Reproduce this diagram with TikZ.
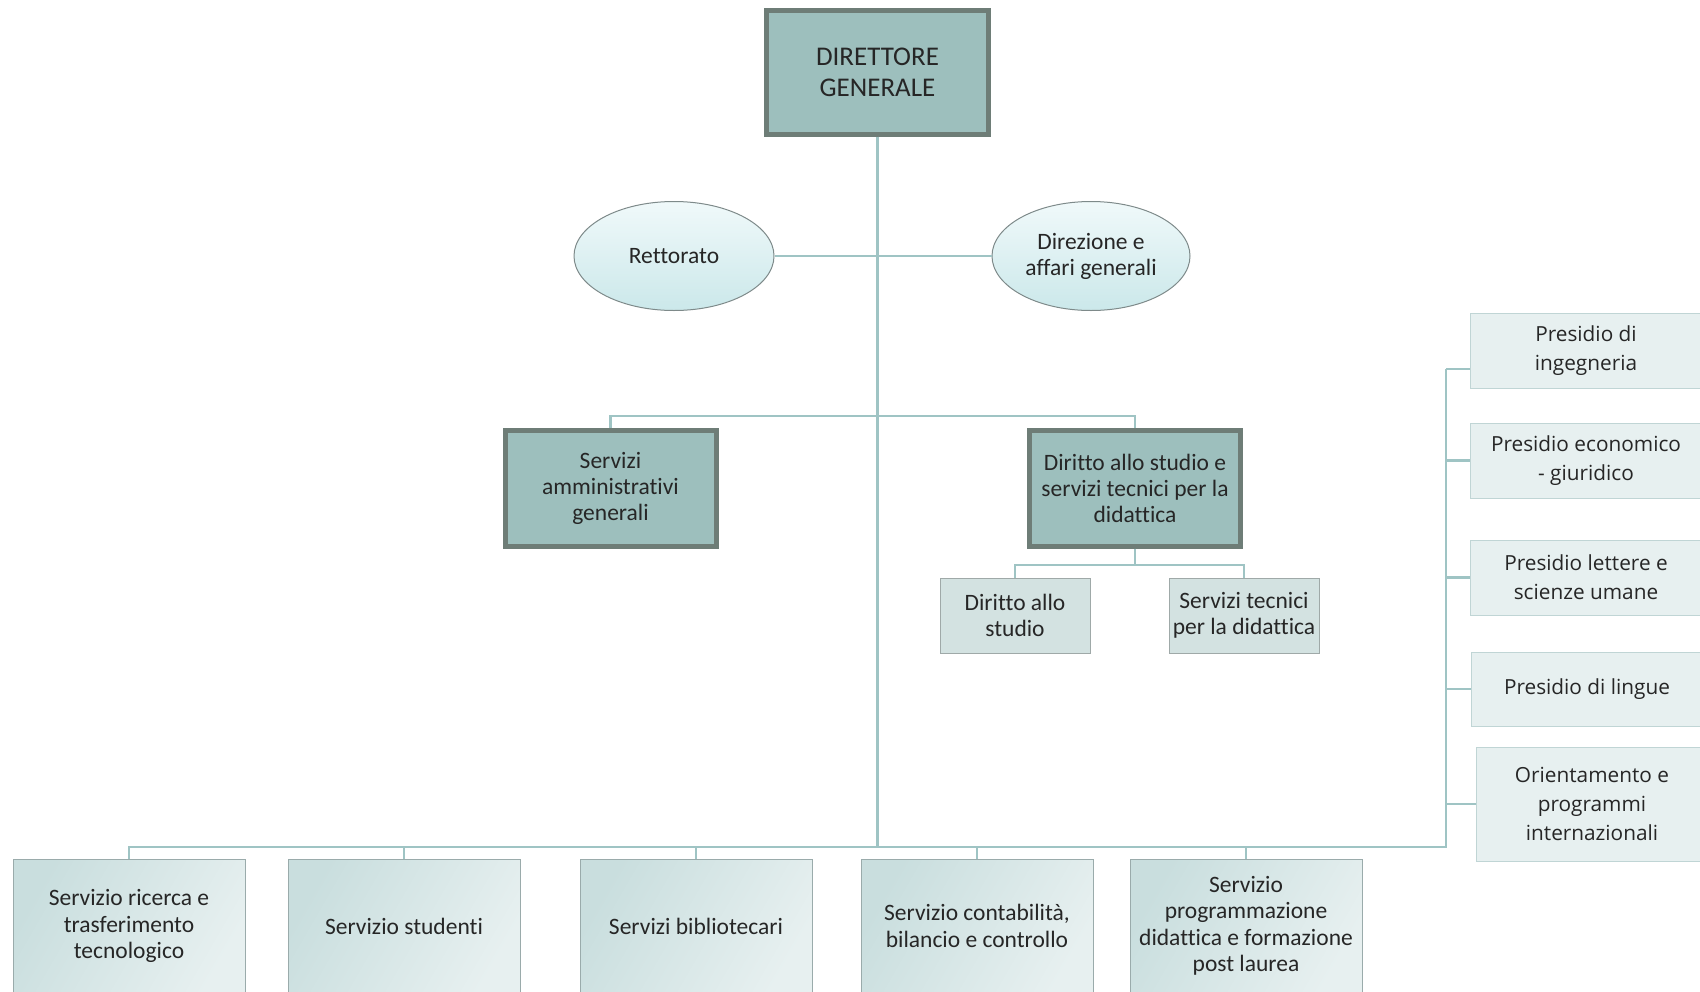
\documentclass[tikz,border=0pt]{standalone}
\usepackage{fontspec}
\setmainfont{Carlito}[Ligatures={NoCommon}]
\newfontfamily\rightfont{Open Sans}
\usetikzlibrary{shapes.geometric}
\definecolor{linec}{HTML}{9FC4C4}
\definecolor{darkfill}{HTML}{9DBFBD}
\definecolor{darkborder}{HTML}{6E7D77}
\definecolor{smallfill}{HTML}{D3E2E1}
\definecolor{smallborder}{HTML}{9FA9A8}
\definecolor{ellborder}{HTML}{7E8A8A}
\definecolor{elltop}{HTML}{F0F9FA}
\definecolor{ellbottom}{HTML}{CBE8EA}
\definecolor{botleft}{HTML}{C9DEDE}
\definecolor{botright}{HTML}{E7F0F0}
\definecolor{botborder}{HTML}{9AABAB}
\definecolor{rightfill}{HTML}{E7F0F0}
\definecolor{rightborder}{HTML}{C0D5D5}
\definecolor{txt}{HTML}{262626}
\tikzset{
  conn/.style={draw=linec, line width=2.6pt},
  bigbox/.style={rectangle, draw=darkborder, line width=5pt, fill=darkfill, text=txt, align=center,
    inner sep=0pt, font=\fontsize{23.5}{26}\selectfont},
  topbox/.style={bigbox, font=\fontsize{27}{31}\selectfont},
  smallbox/.style={rectangle, draw=smallborder, line width=1pt, fill=smallfill, text=txt, align=center,
    inner sep=0pt, minimum width=150pt, minimum height=75pt, font=\fontsize{23.5}{26}\selectfont},
  oval/.style={ellipse, draw=ellborder, line width=1pt, top color=elltop, bottom color=ellbottom,
    text=txt, align=center, inner sep=0pt, font=\fontsize{23.5}{26}\selectfont},
  botbox/.style={rectangle, draw=botborder, line width=1pt, left color=botleft, right color=botright,
    shading angle=60, text=txt, align=center, inner sep=0pt, minimum width=232pt, minimum height=134pt,
    font=\fontsize{23.5}{26.5}\selectfont},
  rbox/.style={rectangle, draw=rightborder, line width=1pt, fill=rightfill, text=txt, align=center,
    inner sep=0pt, minimum width=232pt, font=\rightfont\fontsize{20.8}{29}\selectfont},
}
\begin{document}
\begin{tikzpicture}[x=1pt, y=-1pt]
\useasboundingbox (0,0) rectangle (1700,991);
\clip (0,0) rectangle (1700,991);
% nodes
\node[topbox, minimum width=222pt, minimum height=124pt] (dg) at (877.5,72) {DIRETTORE\\GENERALE};
\node[oval, minimum width=200pt, minimum height=109pt] (rett) at (674,256) {Rettorato};
\node[oval, minimum width=198pt, minimum height=109pt] (dir) at (1091,256) {Direzione e\\affari generali};
\node[bigbox, minimum width=211pt, minimum height=116pt] (sag) at (610.5,488) {Servizi\\amministrativi\\generali};
\node[bigbox, minimum width=211pt, minimum height=116pt] (dsd) at (1135,488) {Diritto allo studio e\\servizi tecnici per la\\didattica};
\node[smallbox] (das) at (1015,615.5) {Diritto allo\\studio};
\node[smallbox] (stp) at (1244,615.5) {Servizi tecnici\\per la didattica};
\node[botbox] (b1) at (129,926) {Servizio ricerca e\\trasferimento\\tecnologico};
\node[botbox] (b2) at (404,926) {Servizio studenti};
\node[botbox] (b3) at (696,926) {Servizi bibliotecari};
\node[botbox] (b4) at (977,926) {Servizio contabilità,\\bilancio e controllo};
\node[botbox] (b5) at (1246,926) {Servizio\\programmazione\\didattica e formazione\\post laurea};
\node[rbox, minimum height=75pt] (r1) at (1586,350.5) {Presidio di\\ingegneria};
\node[rbox, minimum height=75pt] (r2) at (1586,460.5) {Presidio economico\\- giuridico};
\node[rbox, minimum height=75pt] (r3) at (1586,577.5) {Presidio lettere e\\scienze umane};
\node[rbox, minimum height=74pt] (r4) at (1587,689) {Presidio di lingue};
\node[rbox, minimum height=114pt] (r5) at (1592,804) {Orientamento e\\programmi\\internazionali};
% coordinates
\coordinate (bus) at (877.5,847);
\coordinate (rbus) at (1446,847);
\coordinate (rtop) at (1446,369);
\coordinate (mid) at (877.5,416);
\coordinate (sub) at (1135,565);
% connectors
\draw[conn] (dg.south) -- (bus);
\draw[conn] (rett.east) -- (dir.west);
\draw[conn] (sag.north) -- (sag.north |- mid) -- (dsd.north |- mid) -- (dsd.north);
\draw[conn] (dsd.south) -- (sub);
\draw[conn] (das.north) -- (das.north |- sub) -- (stp.north |- sub) -- (stp.north);
\draw[conn] (b1.north) -- (b1.north |- bus) -- (rbus) -- (rtop);
\draw[conn] (b2.north) -- (b2.north |- bus);
\draw[conn] (b3.north) -- (b3.north |- bus);
\draw[conn] (b4.north) -- (b4.north |- bus);
\draw[conn] (b5.north) -- (b5.north |- bus);
\draw[conn] (rtop) -- (rtop -| r1.west);
\draw[conn] (r2.west) -- (r2.west -| rtop);
\draw[conn] (r3.west) -- (r3.west -| rtop);
\draw[conn] (r4.west) -- (r4.west -| rtop);
\draw[conn] (r5.west) -- (r5.west -| rtop);
\end{tikzpicture}
\end{document}
